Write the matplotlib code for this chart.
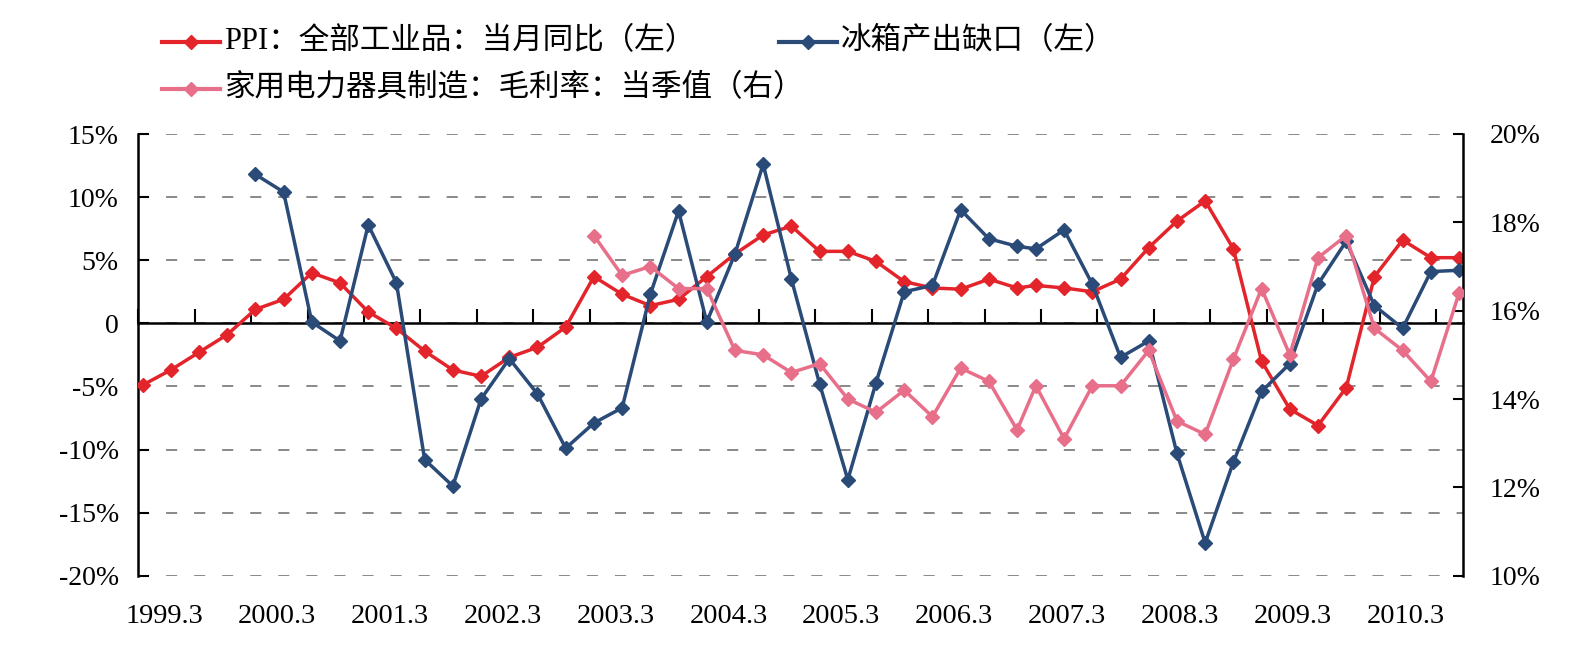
import numpy as np
import matplotlib
matplotlib.use("Agg")
import matplotlib.pyplot as plt
from matplotlib.lines import Line2D
from matplotlib.transforms import blended_transform_factory

# quarterly observation dates (the series switch to Feb/May/Aug/Nov from 2007)
dates = ["1999.3", "1999.6", "1999.9", "1999.12", "2000.3", "2000.6", "2000.9", "2000.12",
         "2001.3", "2001.6", "2001.9", "2001.12", "2002.3", "2002.6", "2002.9", "2002.12",
         "2003.3", "2003.6", "2003.9", "2003.12", "2004.3", "2004.6", "2004.9", "2004.12",
         "2005.3", "2005.6", "2005.9", "2005.12", "2006.3", "2006.6", "2006.9", "2006.12",
         "2007.2", "2007.5", "2007.8", "2007.11", "2008.2", "2008.5", "2008.8", "2008.11",
         "2009.2", "2009.5", "2009.8", "2009.11", "2010.2", "2010.5", "2010.8", "2010.11"]

# PPI: all industrial products, yoy (%), left axis
ppi = [-4.9, -3.7, -2.3, -0.9, 1.1, 1.9, 4.0, 3.2, 0.9, -0.4, -2.2, -3.7, -4.2, -2.7, -1.9, -0.3,
       3.7, 2.3, 1.4, 1.9, 3.7, 5.5, 7.0, 7.7, 5.7, 5.7, 4.9, 3.3, 2.8, 2.7, 3.5, 2.8,
       3.0, 2.8, 2.5, 3.5, 6.0, 8.1, 9.7, 5.9, -3.0, -6.8, -8.1, -5.1, 3.7, 6.6, 5.2, 5.2]

# refrigerator output gap (%), left axis, starts 2000.3
fridge_gap = [11.8, 10.4, 0.1, -1.4, 7.8, 3.2, -10.8, -12.9, -6.0, -2.8, -5.6, -9.9,
              -7.9, -6.7, 2.3, 8.9, 0.1, 5.5, 12.6, 3.5, -4.8, -12.4, -4.7, 2.5,
              3.0, 9.0, 6.7, 6.1, 5.9, 7.4, 3.1, -2.7, -1.4, -10.3, -17.4, -11.0,
              -5.4, -3.2, 3.1, 6.5, 1.4, -0.4, 4.1, 4.2]

# household electric appliance manufacturing gross margin (%), right axis, starts 2003.3
margin = [17.7, 16.8, 17.0, 16.5, 16.5, 15.1, 15.0, 14.6, 14.8, 14.0, 13.7, 14.2,
          13.6, 14.7, 14.4, 13.3, 14.3, 13.1, 14.3, 14.3, 15.1, 13.5, 13.2, 14.9,
          16.5, 15.0, 17.2, 17.7, 15.6, 15.1, 14.4, 16.4]

left_ticks = [-20, -15, -10, -5, 0, 5, 10, 15]
left_labels = ["-20%", "-15%", "-10%", "-5%", "0", "5%", "10%", "15%"]
right_ticks = [10, 12, 14, 16, 18, 20]
right_labels = ["10%", "12%", "14%", "16%", "18%", "20%"]
year_labels = [f"{y}.3" for y in range(1999, 2011)]

names = ["PPI：全部工业品：当月同比（左）", "冰箱产出缺口（左）",
         "家用电力器具制造：毛利率：当季值（右）"]
RED, BLUE, PINK = "#E3242B", "#2A4A78", "#E86F89"


def month_idx(s):
    y, m = s.split(".")
    return (int(y) - 1999) * 12 + int(m) - 3


x_all = np.array([month_idx(d) for d in dates])
x_gap = x_all[len(x_all) - len(fridge_gap):]
x_margin = x_all[len(x_all) - len(margin):]

plt.rcParams["lines.scale_dashes"] = False
SERIF = "Liberation Serif"
MIXED = [SERIF, "Noto Sans CJK SC", "DejaVu Sans"]

W, H = 1586, 659
fig = plt.figure(figsize=(W / 100, H / 100), dpi=100)
ax = fig.add_axes([138.3 / W, 1 - 575.7 / H, (1463.3 - 138.3) / W, (575.7 - 134.0) / H])
ax2 = ax.twinx()

lkw = dict(lw=2.5, marker="D", ms=7)
ax.plot(x_all, ppi, color=RED, mec=RED, zorder=3, **lkw)
ax.plot(x_gap, fridge_gap, color=BLUE, mec=BLUE, zorder=4, **lkw)
ax2.plot(x_margin, margin, color=PINK, mec=PINK, zorder=3, **lkw)

ax.set_xlim(-0.45, 140.45)
ax.set_ylim(-20, 15)
ax2.set_ylim(10, 20)

for s in ["top", "right"]:
    ax.spines[s].set_visible(False)
for s in ["top", "left", "bottom"]:
    ax2.spines[s].set_visible(False)
ax.spines["bottom"].set_position(("data", 0))
for sp in [ax.spines["bottom"], ax.spines["left"], ax2.spines["right"]]:
    sp.set_linewidth(1.8)
    sp.set_color("black")

ax.set_xticks(np.arange(24) * 6 - 0.45)
ax.tick_params(axis="x", direction="in", length=10, width=1.5, labelbottom=False)
ax.set_yticks(left_ticks)
ax.set_yticklabels(left_labels, family=SERIF, fontsize=20)
ax.tick_params(axis="y", direction="in", length=8, width=1.5, pad=14)
ax2.set_yticks(right_ticks)
ax2.set_yticklabels(right_labels, family=SERIF, fontsize=20)
ax2.tick_params(axis="y", direction="in", length=7, width=1.5, pad=19)

ax.grid(axis="y", color="#808080", lw=1.3, linestyle=(0, (8.0, 12.2)))
ax.set_axisbelow(True)

trans = blended_transform_factory(ax.transData, ax.transAxes)
for lab in year_labels:
    ax.text(month_idx(lab) + 2.3, -0.108, lab, ha="center", va="baseline",
            fontsize=20.5, family=SERIF, transform=trans)

# legend drawn by hand (Excel-style flowing layout)
entries = [(names[0], RED, 162, 42), (names[1], BLUE, 779, 42), (names[2], PINK, 162, 89)]
for name, col, x0, y0 in entries:
    yf = 1 - y0 / H
    xs = np.array([x0, x0 + 29, x0 + 58]) / W
    fig.add_artist(Line2D(xs, [yf] * 3, color=col, lw=3, marker="D", ms=7, mec=col,
                          markevery=[1], transform=fig.transFigure))
    fig.text((x0 + 62) / W, yf, name, ha="left", va="center", fontsize=22, family=MIXED)

fig.savefig("out.png", dpi=100, facecolor="white")
